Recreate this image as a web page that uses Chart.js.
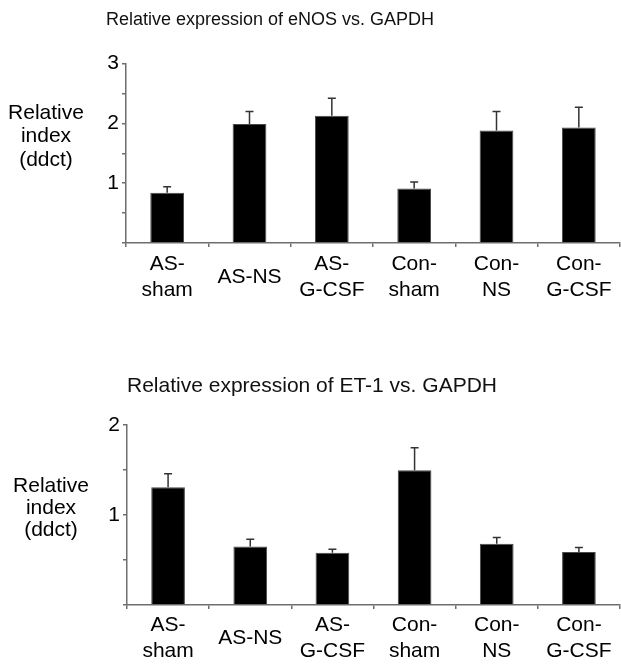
<!DOCTYPE html>
<html><head><meta charset="utf-8">
<script src="https://cdn.jsdelivr.net/npm/chart.js@4.4.1/dist/chart.umd.min.js"></script>
<style>html,body{margin:0;padding:0;background:#fff;overflow:hidden;} canvas{position:absolute;left:0;}</style>
</head><body>
<canvas id="c1" width="621" height="333" style="top:0"></canvas>
<canvas id="c2" width="621" height="333" style="top:333px"></canvas>
<script>
const categories = [['AS-','sham'], 'AS-NS', ['AS-','G-CSF'], ['Con-','sham'], ['Con-','NS'], ['Con-','G-CSF']];
const enosValues = [0.84, 1.99, 2.13, 0.91, 1.88, 1.93];
const enosErrors = [0.10, 0.21, 0.29, 0.11, 0.32, 0.34];
const et1Values  = [1.31, 0.65, 0.58, 1.50, 0.68, 0.59];
const et1Errors  = [0.15, 0.08, 0.04, 0.25, 0.07, 0.05];
const enosTickLabels = ['1', '2', '3'];
const et1TickLabels  = ['1', '2'];
const enosTitle = 'Relative expression of eNOS vs. GAPDH';
const et1Title  = 'Relative expression of ET-1 vs. GAPDH';
const yLabelLines = ['Relative', 'index', '(ddct)'];

const FONT = '"Liberation Sans", Arial, sans-serif';
const AXIS = '#6e6e6e';

const errorBars = {
  id: 'errorBars',
  afterDatasetsDraw(chart, args, opts) {
    const ctx = chart.ctx, y = chart.scales.y;
    const meta = chart.getDatasetMeta(0);
    const vals = chart.data.datasets[0].data;
    ctx.save();
    ctx.strokeStyle = opts.color; ctx.lineWidth = opts.width;
    meta.data.forEach((bar, i) => {
      const top = y.getPixelForValue(vals[i] + opts.errors[i]);
      ctx.beginPath();
      ctx.moveTo(bar.x, bar.y); ctx.lineTo(bar.x, top);
      ctx.moveTo(bar.x - opts.cap, top); ctx.lineTo(bar.x + opts.cap, top);
      ctx.stroke();
    });
    ctx.restore();
  }
};

const yLabel = {
  id: 'yLabel',
  afterDraw(chart, args, opts) {
    const ctx = chart.ctx;
    ctx.save();
    ctx.fillStyle = '#000';
    ctx.font = opts.size + 'px ' + FONT;
    ctx.textAlign = 'center'; ctx.textBaseline = 'middle';
    opts.lines.forEach((t, i) => ctx.fillText(t, opts.x, opts.ys[i]));
    ctx.restore();
  }
};

function makeChart(id, cfg) {
  return new Chart(document.getElementById(id), {
    type: 'bar',
    data: {
      labels: categories,
      datasets: [{ data: cfg.values, backgroundColor: '#000', borderColor: '#4a4a4a', borderWidth: 1,
                   barPercentage: 0.41, categoryPercentage: 1.0 }]
    },
    plugins: [errorBars, yLabel],
    options: {
      responsive: false, animation: false, devicePixelRatio: 1,
      layout: { padding: cfg.padding },
      plugins: {
        legend: { display: false }, tooltip: { enabled: false },
        title: { display: true, text: cfg.title, align: 'start', color: '#111', fullSize: cfg.titleFull,
                 font: { family: FONT, size: cfg.titleSize, weight: 'normal', lineHeight: 1.2 },
                 padding: cfg.titlePad },
        errorBars: { errors: cfg.errors, color: '#333', width: 1.5, cap: 4 },
        yLabel: { lines: yLabelLines, x: cfg.ylx, ys: cfg.yly, size: 21 }
      },
      scales: {
        x: {
          afterFit: s => { s.height = cfg.xHeight; s.paddingLeft = 0; s.paddingRight = 0; },
          grid: { drawOnChartArea: false, offset: true, tickLength: 4, color: AXIS, lineWidth: 1.5 },
          border: { display: true, color: AXIS, width: 1.5 },
          ticks: { padding: cfg.xPad, color: '#000', maxRotation: 0, autoSkip: false, crossAlign: 'center',
                   font: { family: FONT, size: 21, lineHeight: 1.25 } }
        },
        y: {
          min: 0, max: cfg.max,
          afterFit: s => { s.width = cfg.yWidth; },
          grid: { drawOnChartArea: false, tickLength: 4, color: AXIS, lineWidth: 1.5 },
          border: { display: true, color: AXIS, width: 1.5 },
          ticks: { stepSize: 0.5, padding: 3, color: '#000', autoSkip: false,
                   font: { family: FONT, size: 21 },
                   callback: v => cfg.tickLabels.includes(String(v)) ? String(v) : '' }
        }
      }
    }
  });
}

makeChart('c1', {
  values: enosValues, errors: enosErrors, max: 3, tickLabels: enosTickLabels,
  title: enosTitle, titleSize: 18, titlePad: { top: 9, bottom: 33 }, titleFull: true,
  padding: { left: 106, right: 1, top: 0, bottom: 30 }, yWidth: 20,
  xHeight: 60, xPad: 17,
  ylx: 46, yly: [113, 136, 160]
});
makeChart('c2', {
  values: et1Values, errors: et1Errors, max: 2, tickLabels: et1TickLabels,
  title: et1Title, titleSize: 21, titlePad: { top: 41, bottom: 26 }, titleFull: false,
  padding: { left: 0, right: 1, top: 0, bottom: 1 }, yWidth: 127,
  xHeight: 60, xPad: 16,
  ylx: 51, yly: [153, 175, 197]
});
</script>
</body></html>
